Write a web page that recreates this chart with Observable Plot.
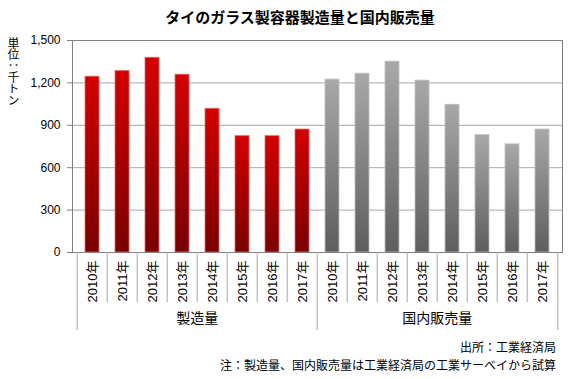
<!DOCTYPE html>
<html><head><meta charset="utf-8">
<script src="https://cdn.jsdelivr.net/npm/d3@7"></script>
<script src="https://cdn.jsdelivr.net/npm/@observablehq/plot@0.6"></script>
<style>
body{margin:0;background:#fff;font-family:"Liberation Sans",Arial,"Noto Sans CJK JP",sans-serif;color:#000;}
#wrap{position:relative;width:580px;height:379px;overflow:hidden;background:#fff;}
#title{position:absolute;left:0;top:6px;width:600px;text-align:center;font-weight:bold;font-size:15px;}
#ylab{position:absolute;left:6px;top:37px;writing-mode:vertical-rl;font-family:"Noto Sans CJK JP",sans-serif;font-size:12px;line-height:14px;letter-spacing:-0.6px;z-index:2;}
#chart{position:absolute;left:0;top:30px;z-index:1;}
.foot{position:absolute;right:24px;font-size:12px;white-space:nowrap;}
</style></head>
<body><div id="wrap">
<div id="title">タイのガラス製容器製造量と国内販売量</div>
<div id="chart"></div>
<div id="ylab"></div>
<div class="foot" style="top:338px">出所：工業経済局</div>
<div class="foot" style="top:356px">注：製造量、国内販売量は工業経済局の工業サーベイから試算</div>
</div>
<script>
const years = ["2010","2011","2012","2013","2014","2015","2016","2017"];
const groups = ["製造量","国内販売量"];
const production = [1244,1284,1378,1258,1017,823,823,870];
const domesticSales = [1223,1265,1350,1216,1045,830,765,870];
const yTicks = [0,300,600,900,1200,1500];
const yLabel = "単位：千トン";

document.getElementById("ylab").textContent = yLabel;

const series = [production, domesticSales];
const rows = [];
groups.forEach((g, gi) => years.forEach((yr, i) => rows.push({group: g, year: yr, key: g + "|" + yr, value: series[gi][i]})));
const keys = rows.map(d => d.key);

const W = 580, H = 305, mL = 72, mR = 18, mT = 10, mB = 83;
const step = (W - mL - mR) / keys.length;
const frameH = H - mT - mB;

const minorSep = keys.filter((k, i) => i % years.length !== 0);
const majorSep = keys.filter((k, i) => i % years.length === 0);
const groupCenters = groups.map(g => ({group: g, key: g + "|" + years[years.length / 2]}));

const plot = Plot.plot({
  width: W, height: H,
  marginLeft: mL, marginRight: mR, marginTop: mT, marginBottom: mB,
  style: {fontFamily: "'Liberation Sans', Arial, 'Noto Sans CJK JP', sans-serif", fontSize: "12px", color: "#000", background: "transparent"},
  x: {domain: keys, padding: 0},
  y: {domain: [0, 1500]},
  marks: [
    Plot.gridY(yTicks.filter(t => t > 0 && t < 1500), {stroke: "#a8a8a8", strokeOpacity: 1}),
    Plot.barY(rows.filter(d => d.group === groups[0]), {x: "key", y: "value", fill: "url(#gRed)", stroke: "#e06a6a", strokeWidth: 0.8, insetLeft: 8, insetRight: 8}),
    Plot.barY(rows.filter(d => d.group === groups[1]), {x: "key", y: "value", fill: "url(#gGray)", stroke: "#bdbdbd", strokeWidth: 0.8, insetLeft: 8, insetRight: 8}),
    Plot.frame({stroke: "#808080"}),
    Plot.axisY({ticks: yTicks, tickFormat: d3.format(","), tickSize: 5, tickPadding: 7, stroke: "#808080", fontSize: 12, label: null}),
    Plot.axisX({tickFormat: k => k.split("|")[1] + "年", tickRotate: -90, tickSize: 0, tickPadding: 8, fontSize: 13, label: null}),
    Plot.ruleX(minorSep, {x: d => d, dx: -step / 2, insetTop: frameH, insetBottom: -50, stroke: "#a8a8a8"}),
    Plot.ruleX(majorSep, {x: d => d, dx: -step / 2, insetTop: frameH, insetBottom: -78, stroke: "#a8a8a8"}),
    Plot.ruleX([keys[keys.length - 1]], {x: d => d, dx: step / 2, insetTop: frameH, insetBottom: -78, stroke: "#a8a8a8"}),
    Plot.text(groupCenters, {x: "key", text: "group", dx: -step / 2, frameAnchor: "bottom", dy: 70, fontSize: 14})
  ]
});

const defs = d3.select(plot).insert("defs", ":first-child");
function grad(id, top, bottom) {
  const g = defs.append("linearGradient").attr("id", id).attr("x1", 0).attr("y1", 0).attr("x2", 0).attr("y2", 1);
  g.append("stop").attr("offset", "0%").attr("stop-color", top);
  g.append("stop").attr("offset", "100%").attr("stop-color", bottom);
}
grad("gRed", "#d50000", "#7a0000");
grad("gGray", "#a8a8a8", "#5e5e5e");

document.getElementById("chart").appendChild(plot);
</script>
</body></html>
